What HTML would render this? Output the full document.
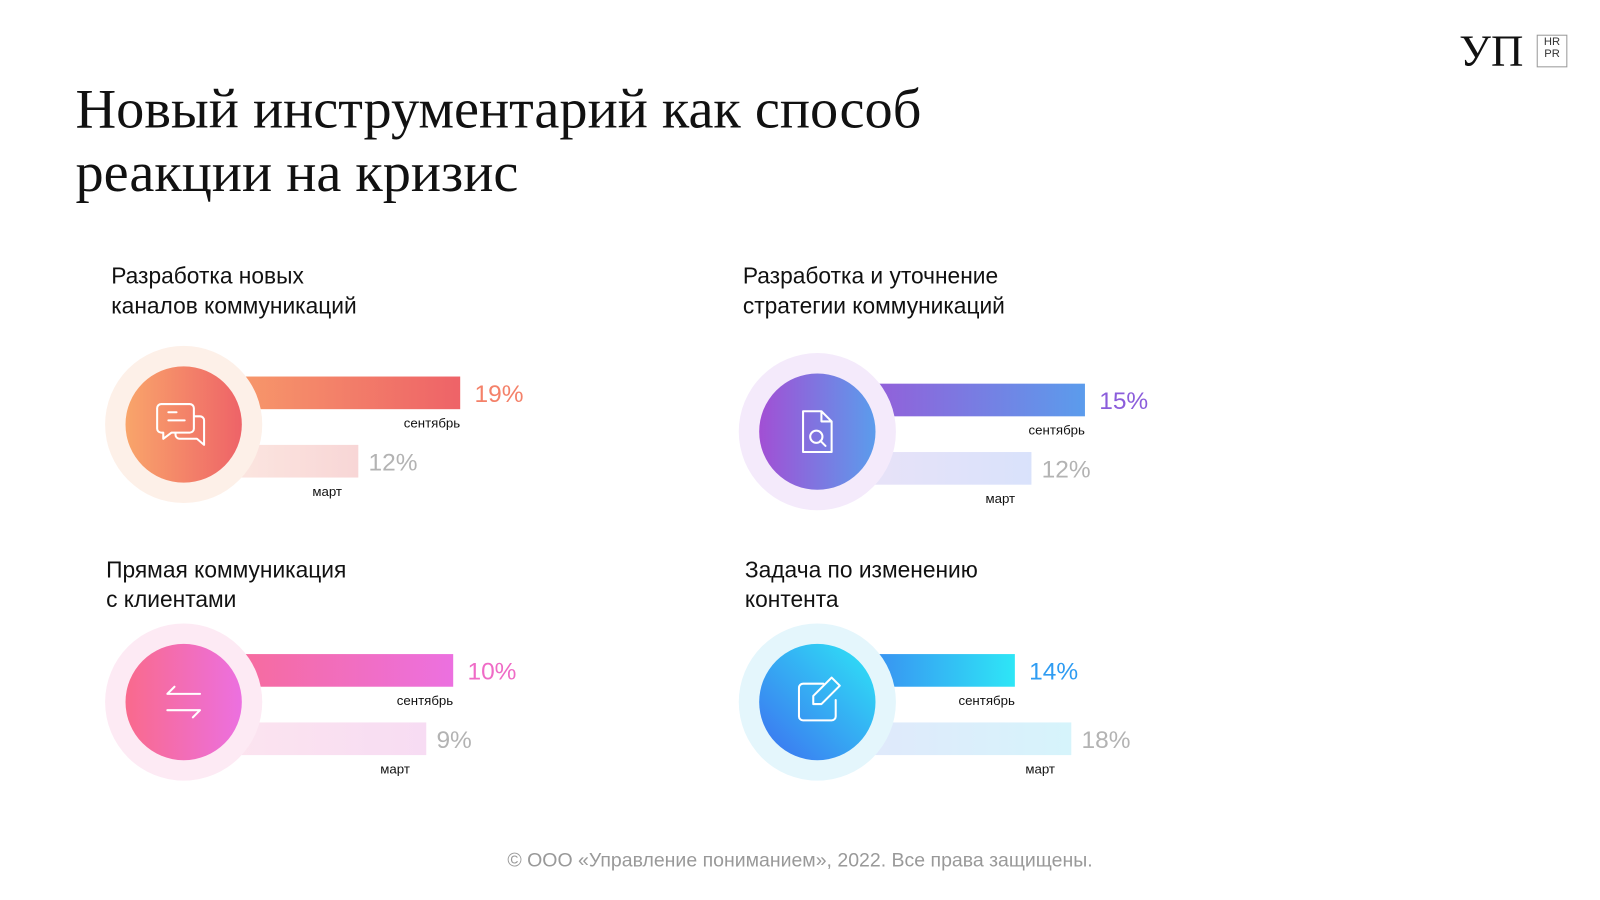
<!DOCTYPE html>
<html><head><meta charset="utf-8">
<style>
body{margin:0;width:1600px;height:900px;background:#fff;overflow:hidden;font-family:"Liberation Sans",sans-serif}
#wrap{position:absolute;left:0;top:0;width:1568px;height:882px;transform:scale(1.0204);transform-origin:0 0}
.t{position:absolute;left:74px;top:76px;font-family:"Liberation Serif",serif;font-size:55.2px;line-height:62px;color:#111}
.foot{position:absolute;left:0;width:1568px;top:833px;text-align:center;font-size:19.1px;color:#999}
</style></head><body>
<div id="wrap">
<div class="t">Новый инструментарий как способ<br>реакции на кризис</div>
<div style="position:absolute;left:1430px;top:24px;font-family:'Liberation Serif',serif;font-size:44px;color:#111">УП</div>
<div style="position:absolute;left:1506px;top:34px;width:28px;height:30px;border:1px solid #999;font-size:11px;line-height:12px;text-align:center;color:#333">HR<br>PR</div>
<svg id="ch" width="1568" height="882" style="position:absolute;left:0;top:0"></svg>
<div class="foot">© ООО «Управление пониманием», 2022. Все права защищены.</div>
</div>
<script>
const titles=[["Разработка новых","каналов коммуникаций"],["Разработка и уточнение","стратегии коммуникаций"],["Прямая коммуникация","с клиентами"],["Задача по изменению","контента"]];
const septValues=[19,15,10,14];
const marValues=[12,12,9,18];
const axisMax=[19,15.5,10.26,19.6];
const seriesLabels=["сентябрь","март"];
const panels=[
 {cx:180,cy:416,tx:109,ty:270,c1:"#f9a56a",c2:"#ee6368",pc:"#f48169",ring:"#fdf0e8",l1:"#fdece4",l2:"#f8d6d6"},
 {cx:801,cy:423,tx:728,ty:270,c1:"#a24fd4",c2:"#5b9cec",pc:"#8b5ddb",ring:"#f4eafb",l1:"#ece2f7",l2:"#d9e2fb"},
 {cx:180,cy:688,tx:104,ty:558,c1:"#f96a8c",c2:"#ec70e0",pc:"#ef6bc6",ring:"#fdeaf4",l1:"#fde6ee",l2:"#f7dcf3"},
 {cx:801,cy:688,tx:730,ty:558,c1:"#3d6ff0",c2:"#2ee6f6",pc:"#2f9cf2",ring:"#e4f6fc",l1:"#e2e6fb",l2:"#d6f4fb"}];
const icons=[
 '<path d="M-22,-20 h28 a4,4 0 0 1 4,4 v20 a4,4 0 0 1 -4,4 h-18 l-8,6 v-6 h-2 a4,4 0 0 1 -4,-4 v-20 a4,4 0 0 1 4,-4z M-15,-12 h8 M-15,-4 h16 M10,-8 h6 a4,4 0 0 1 4,4 v18 h0 v6 l-7,-6 h-17 a4,4 0 0 1 -4,-4 v-2"/>',
 '<path d="M-14,-20 h18 l10,10 v30 h-28z M4,-20 v10 h10"/><circle cx="-1" cy="5" r="6"/><path d="M3,9 l5,5"/>',
 '<path d="M16,-8 h-32 l7,-7 M-16,8 h32 l-7,7"/>',
 '<path d="M6,-18 h-20 a4,4 0 0 0 -4,4 v28 a4,4 0 0 0 4,4 h28 a4,4 0 0 0 4,-4 v-16"/><path d="M14,-24 l8,8 l-18,18 h-8 v-8z"/>'];
const svg=document.getElementById('ch');const NS="http://www.w3.org/2000/svg";
function mk(t,a,p){const e=document.createElementNS(NS,t);for(const k in a)e.setAttribute(k,a[k]);(p||svg).appendChild(e);return e;}
const defs=mk('defs',{});
function xScale(i,v){return panels[i].cx+v/axisMax[i]*271;}
panels.forEach((p,i)=>{
 const g1=mk('linearGradient',{id:'g'+i},defs);mk('stop',{offset:0,'stop-color':p.c1},g1);mk('stop',{offset:1,'stop-color':p.c2},g1);
 const gc=mk('linearGradient',{id:'gc'+i,x1:0,y1:i==3?1:0,x2:1,y2:0},defs);mk('stop',{offset:0,'stop-color':p.c1},gc);mk('stop',{offset:1,'stop-color':p.c2},gc);
 const gl=mk('linearGradient',{id:'gl'+i},defs);mk('stop',{offset:0,'stop-color':p.l1},gl);mk('stop',{offset:1,'stop-color':p.l2},gl);
 const tt=mk('text',{x:p.tx,y:p.ty+8,'font-size':22.3,fill:'#111'});
 
 
 titles[i].forEach((l,j)=>{mk('tspan',{x:p.tx,dy:j?29:0},tt).textContent=l;});
 const y1=p.cy-47,y2=p.cy+20;
 const xs=xScale(i,septValues[i]),xm=xScale(i,marValues[i]);
 const b1=mk('rect',{x:p.cx,y:y1,width:xs-p.cx,height:32,fill:'url(#g'+i+')'});
 
 
 const b2=mk('rect',{x:p.cx,y:y2,width:xm-p.cx,height:32,fill:'url(#gl'+i+')'});
 
 
 const v1=mk('text',{x:xs+14,y:y1+25,'font-size':24,fill:p.pc});v1.textContent=septValues[i]+'%';
 
 
 const v2=mk('text',{x:xm+10,y:y2+25,'font-size':24,fill:'#b3b3b3'});v2.textContent=marValues[i]+'%';
 
 
 const s1=mk('text',{x:xs,y:y1+50,'font-size':13,fill:'#111','text-anchor':'end'});s1.textContent=seriesLabels[0];
 
 
 const s2=mk('text',{x:xm-16,y:y2+50,'font-size':13,fill:'#111','text-anchor':'end'});s2.textContent=seriesLabels[1];
 
 
 const r=mk('circle',{cx:p.cx,cy:p.cy,r:77,fill:p.ring});
 
 
 const c=mk('circle',{cx:p.cx,cy:p.cy,r:57,fill:'url(#gc'+i+')'});
 
 
 const ic=mk('g',{transform:`translate(${p.cx},${p.cy})`,fill:'none',stroke:'#fff','stroke-width':2,'stroke-linejoin':'round','stroke-linecap':'round'});
 ic.innerHTML=icons[i];
 
 
});
</script>
</body></html>
